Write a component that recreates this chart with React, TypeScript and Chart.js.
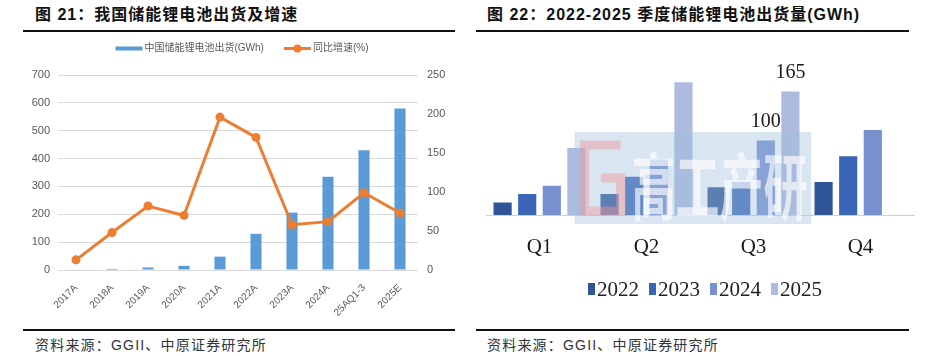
import React, { useEffect, useRef } from "react";
import { Chart, registerables } from "chart.js";

Chart.register(...registerables);

// ---------- Left chart data ----------
const years = ["2017A", "2018A", "2019A", "2020A", "2021A", "2022A", "2023A", "2024A", "25AQ1-3", "2025E"];
const shipments = [2, 4, 9, 15, 48, 130, 206, 335, 430, 580];
const growth = [13, 48, 82, 70, 196, 170, 58, 62, 99, 73];
const leftTicks = [0, 100, 200, 300, 400, 500, 600, 700];
const rightTicks = [0, 50, 100, 150, 200, 250];

// ---------- Right chart data ----------
const quarters = ["Q1", "Q2", "Q3", "Q4"];
const seriesYears = ["2022", "2023", "2024", "2025"];
const s2022 = [18, 29, 38, 45];
const s2023 = [29, 52, 45, 79];
const s2024 = [40, 75, 100, 114];
const s2025 = [90, 177, 165, null];
const labelledQuarter = "Q3";
const labelledSeries = ["2024", "2025"];

const FONT_SANS = '"Liberation Sans", "Noto Sans CJK SC", sans-serif';
const FONT_SERIF = '"Liberation Serif", "Noto Sans CJK SC", serif';

type LegendItem = { kind: "bar" | "line" | "box"; color: string; text: string };

// Custom legend drawn on the chart canvas
function legendPlugin(opts: {
  items: () => LegendItem[];
  centerX: number;
  centerY: number;
  font: string;
  color: string;
  swatchW: number;
  swatchH: number;
  gap: number;
  itemGap: number;
  textDy?: number;
}) {
  return {
    id: "customLegend",
    afterDraw(chart: any) {
      const { ctx } = chart;
      const items = opts.items();
      ctx.save();
      ctx.font = opts.font;
      const widths = items.map((it) => opts.swatchW + opts.gap + ctx.measureText(it.text).width);
      const total = widths.reduce((a, b) => a + b, 0) + opts.itemGap * (items.length - 1);
      let x = opts.centerX - total / 2;
      const cy = opts.centerY;
      items.forEach((it, i) => {
        ctx.fillStyle = it.color;
        ctx.strokeStyle = it.color;
        if (it.kind === "line") {
          ctx.lineWidth = 3;
          ctx.beginPath();
          ctx.moveTo(x, cy);
          ctx.lineTo(x + opts.swatchW, cy);
          ctx.stroke();
          ctx.beginPath();
          ctx.arc(x + opts.swatchW / 2, cy, 4, 0, Math.PI * 2);
          ctx.fill();
        } else {
          ctx.fillRect(x, cy - opts.swatchH / 2, opts.swatchW, opts.swatchH);
        }
        ctx.fillStyle = opts.color;
        ctx.textBaseline = "middle";
        ctx.textAlign = "left";
        ctx.fillText(it.text, x + opts.swatchW + opts.gap, cy + (opts.textDy || 0));
        x += widths[i] + opts.itemGap;
      });
      ctx.restore();
    },
  };
}

function LeftChart() {
  const ref = useRef<HTMLCanvasElement>(null);
  useEffect(() => {
    const blue = "#5B9BD5";
    const orange = "#ED7D31";
    const chart = new Chart(ref.current!, {
      type: "bar",
      data: {
        labels: years,
        datasets: [
          {
            type: "line",
            label: "同比增速(%)",
            data: growth,
            yAxisID: "y1",
            borderColor: orange,
            backgroundColor: orange,
            borderWidth: 3,
            pointRadius: 4.5,
            pointBackgroundColor: orange,
            pointBorderWidth: 0,
            order: 0,
          } as any,
          {
            type: "bar",
            label: "中国储能锂电池出货(GWh)",
            data: shipments,
            yAxisID: "y",
            backgroundColor: blue,
            categoryPercentage: 0.8,
            barPercentage: 0.385,
            order: 1,
          },
        ],
      },
      options: {
        animation: false,
        responsive: false,
        maintainAspectRatio: false,
        layout: { padding: { top: 39, left: 0, right: 0, bottom: 0 } },
        plugins: {
          tooltip: { enabled: false },
          legend: { display: false },
        },
        scales: {
          x: {
            grid: { display: false },
            border: { display: false },
            ticks: {
              color: "#595959",
              font: { size: 10, family: FONT_SANS },
              maxRotation: 45,
              minRotation: 45,
              padding: 4,
            },
            afterFit: (s: any) => {
              s.height = 50;
            },
          },
          y: {
            position: "left",
            min: 0,
            max: 700,
            afterBuildTicks: (s: any) => {
              s.ticks = leftTicks.map((v) => ({ value: v }));
            },
            grid: { color: "#D9D9D9", lineWidth: 1, drawTicks: false },
            border: { display: false },
            ticks: { color: "#595959", font: { size: 11, family: FONT_SANS }, padding: 8 },
            afterFit: (s: any) => {
              s.width = 58;
            },
          },
          y1: {
            position: "right",
            min: 0,
            max: 250,
            afterBuildTicks: (s: any) => {
              s.ticks = rightTicks.map((v) => ({ value: v }));
            },
            grid: { display: false, drawTicks: false },
            border: { display: false },
            ticks: { color: "#595959", font: { size: 11, family: FONT_SANS }, padding: 9 },
            afterFit: (s: any) => {
              s.width = 52;
            },
          },
        },
      },
      plugins: [
        legendPlugin({
          items: () => [
            { kind: "bar", color: blue, text: "中国储能锂电池出货(GWh)" },
            { kind: "line", color: orange, text: "同比增速(%)" },
          ],
          centerX: 242,
          centerY: 12.5,
          font: `10px ${FONT_SANS}`,
          color: "#595959",
          swatchW: 27,
          swatchH: 4,
          gap: 2,
          itemGap: 20,
        }),
      ],
    });
    return () => chart.destroy();
  }, []);
  return <canvas ref={ref} width={470} height={284} style={{ position: "absolute", left: 0, top: 36, width: 470, height: 284 }} />;
}

const watermarkPlugin = {
  id: "watermark",
  afterDatasetsDraw(chart: any) {
    const { ctx, chartArea } = chart;
    const w = chartArea.right - chartArea.left;
    const x0 = chartArea.left + 0.207 * w;
    const x1 = chartArea.left + 0.76 * w;
    const y0 = chartArea.bottom - 83;
    const y1 = chartArea.bottom + 9;
    ctx.save();
    ctx.fillStyle = "rgba(160,190,220,0.40)";
    ctx.fillRect(x0, y0, x1 - x0, y1 - y0);
    // pink "G" mark
    ctx.strokeStyle = "rgba(240,150,150,0.45)";
    ctx.lineWidth = 9;
    const gx = x0 + 10, gy = y0 + 13, gw = 36, gh = 66;
    ctx.beginPath();
    ctx.moveTo(gx + gw, gy);
    ctx.lineTo(gx, gy);
    ctx.lineTo(gx, gy + gh);
    ctx.lineTo(gx + gw, gy + gh);
    ctx.lineTo(gx + gw, gy + gh * 0.5);
    ctx.lineTo(gx + gw * 0.45, gy + gh * 0.5);
    ctx.stroke();
    // white text
    ctx.fillStyle = "rgba(255,255,255,0.65)";
    ctx.font = 'bold 44px "Noto Sans CJK SC", sans-serif';
    ctx.textBaseline = "alphabetic";
    ctx.translate(x0 + 57, y1 - 10);
    ctx.scale(1, 1.65);
    ctx.fillText("高工产研", 0, 0);
    ctx.restore();
  },
};

const valueLabelPlugin = {
  id: "valueLabels",
  afterDatasetsDraw(chart: any) {
    const { ctx } = chart;
    const qi = quarters.indexOf(labelledQuarter);
    ctx.save();
    ctx.fillStyle = "#1a1a1a";
    ctx.font = `20px ${FONT_SERIF}`;
    ctx.textAlign = "center";
    ctx.textBaseline = "bottom";
    chart.data.datasets.forEach((ds: any, di: number) => {
      if (!labelledSeries.includes(ds.label)) return;
      const el = chart.getDatasetMeta(di).data[qi];
      const v = ds.data[qi];
      if (!el || v == null) return;
      ctx.fillText(String(v), el.x, el.y - 8);
    });
    ctx.restore();
  },
};

function RightChart() {
  const ref = useRef<HTMLCanvasElement>(null);
  useEffect(() => {
    const colors = ["#2E5597", "#3B66B8", "#7790D0", "#AEBBE0"];
    const all = [s2022, s2023, s2024, s2025];
    const chart = new Chart(ref.current!, {
      type: "bar",
      data: {
        labels: quarters,
        datasets: seriesYears.map((y, i) => ({
          label: y,
          data: all[i],
          backgroundColor: colors[i],
          borderColor: "rgba(255,255,255,0.35)",
          borderWidth: 1,
          categoryPercentage: 0.92,
          barPercentage: 0.82,
        })),
      },
      options: {
        animation: false,
        responsive: false,
        maintainAspectRatio: false,
        layout: { padding: { top: 24, left: 16, right: 22, bottom: 55 } },
        plugins: {
          tooltip: { enabled: false },
          legend: { display: false },
        },
        scales: {
          x: {
            grid: { display: false },
            border: { display: true, color: "#D0D0D0", width: 1 },
            ticks: { color: "#1a1a1a", font: { size: 21, family: FONT_SERIF }, padding: 12 },
            afterFit: (s: any) => {
              s.height = 50;
            },
          },
          y: {
            display: false,
            min: 0,
            max: 200,
          },
        },
      },
      plugins: [
        watermarkPlugin,
        valueLabelPlugin,
        legendPlugin({
          items: () => seriesYears.map((y, i) => ({ kind: "box" as const, color: colors[i], text: y })),
          centerX: 235,
          centerY: 249,
          font: `21px ${FONT_SERIF}`,
          color: "#222",
          swatchW: 7,
          swatchH: 12,
          gap: 2,
          itemGap: 10,
          textDy: 1,
        }),
      ],
    });
    return () => chart.destroy();
  }, []);
  return <canvas ref={ref} width={466} height={280} style={{ position: "absolute", left: 470, top: 40, width: 466, height: 280 }} />;
}

const titleStyle: React.CSSProperties = {
  position: "absolute",
  top: 4,
  font: `bold 16px ${FONT_SANS}`,
  letterSpacing: "1px",
  color: "#111",
  whiteSpace: "nowrap",
  lineHeight: "22px",
};
const sourceStyle: React.CSSProperties = {
  position: "absolute",
  top: 335,
  font: `14px ${FONT_SANS}`,
  letterSpacing: "1.2px",
  color: "#333",
  whiteSpace: "nowrap",
  lineHeight: "20px",
};
const rule = (left: number, top: number, width: number): React.CSSProperties => ({
  position: "absolute",
  left,
  top,
  width,
  height: 2,
  background: "#111",
});

export default function App() {
  return (
    <div style={{ position: "fixed", left: 0, top: 0, width: 936, height: 356, background: "#fff", overflow: "hidden" }}>
      <div style={{ ...titleStyle, left: 35 }}>图 21：我国储能锂电池出货及增速</div>
      <div style={{ ...titleStyle, left: 487 }}>图 22：2022-2025 季度储能锂电池出货量(GWh)</div>
      <div style={rule(23, 30, 432)} />
      <div style={rule(476, 30, 433)} />
      <LeftChart />
      <RightChart />
      <div style={rule(23, 329, 432)} />
      <div style={rule(476, 329, 433)} />
      <div style={{ ...sourceStyle, left: 35 }}>资料来源：GGII、中原证券研究所</div>
      <div style={{ ...sourceStyle, left: 487 }}>资料来源：GGII、中原证券研究所</div>
    </div>
  );
}
